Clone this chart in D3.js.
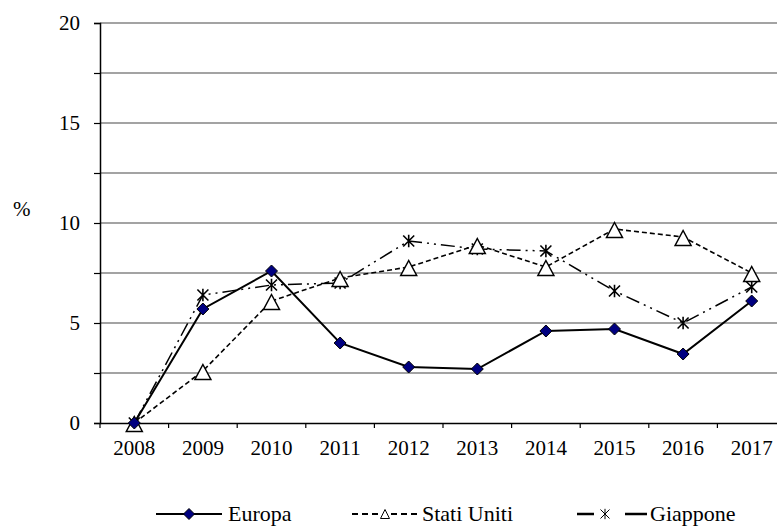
<!DOCTYPE html>
<html>
<head>
<meta charset="utf-8">
<script src="https://cdn.jsdelivr.net/npm/d3@7"></script>
<style>
  html, body { margin: 0; padding: 0; background: #fff; }
  svg { display: block; }
</style>
</head>
<body>
<svg id="chart" width="777" height="526"></svg>
<script>
const years = ["2008","2009","2010","2011","2012","2013","2014","2015","2016","2017"];
const europa = [0, 5.7, 7.6, 4.0, 2.8, 2.7, 4.6, 4.7, 3.45, 6.1];
const statiUniti = [0, 2.6, 6.1, 7.25, 7.8, 8.9, 7.8, 9.7, 9.3, 7.5];
const giappone = [0, 6.4, 6.9, 7.0, 9.1, 8.7, 8.6, 6.6, 5.0, 6.8];
const yTicks = [0, 2.5, 5, 7.5, 10, 12.5, 15, 17.5, 20];
const yLabelTicks = [0, 5, 10, 15, 20];
const seriesNames = ["Europa", "Stati Uniti", "Giappone"];

(function () {
const FONT = "'Liberation Serif', 'Times New Roman', Times, 'DejaVu Serif', serif";
const svg = d3.select("#chart");
const mLeft = 100, mRight = 786, mTop = 23, mBottom = 423;

const x = d3.scaleBand().domain(years).range([mLeft, mRight]);
const y = d3.scaleLinear().domain([0, 20]).range([mBottom, mTop]);
const cx = d => x(d) + x.bandwidth() / 2;

// gridlines
svg.append("g").selectAll("line").data(yTicks.filter(t => t > 0)).join("line")
  .attr("x1", mLeft).attr("x2", mRight)
  .attr("y1", d => y(d)).attr("y2", d => y(d))
  .attr("stroke", "#a3a3a3").attr("stroke-width", 2);

// y axis
const yAxis = d3.axisLeft(y).tickValues(yTicks).tickSize(6).tickFormat("");
const gy = svg.append("g").attr("transform", `translate(${mLeft},0)`).call(yAxis);
gy.select(".domain").attr("stroke", "#000").attr("stroke-width", 1.5);
gy.selectAll(".tick line").attr("stroke", "#000").attr("stroke-width", 1.2);
svg.append("g").selectAll("text").data(yLabelTicks).join("text")
  .attr("x", 80).attr("y", d => y(d) + 7)
  .attr("text-anchor", "end").attr("font-family", FONT).attr("font-size", 21)
  .text(d => d);

// x axis
const xAxis = d3.axisBottom(x).tickSize(0).tickFormat("");
const gx = svg.append("g").attr("transform", `translate(0,${mBottom})`).call(xAxis);
gx.select(".domain").attr("stroke", "#000").attr("stroke-width", 1.5);
svg.append("g").selectAll("line").data(years).join("line")
  .attr("x1", d => x(d)).attr("x2", d => x(d))
  .attr("y1", mBottom).attr("y2", mBottom + 5)
  .attr("stroke", "#000").attr("stroke-width", 1.2);
svg.append("g").selectAll("text").data(years).join("text")
  .attr("x", d => cx(d)).attr("y", 455)
  .attr("text-anchor", "middle").attr("font-family", FONT).attr("font-size", 21)
  .text(d => d);

// % label
svg.append("text").attr("x", 13).attr("y", 216)
  .attr("font-family", FONT).attr("font-size", 21).text("%");

const line = d3.line().x((d, i) => cx(years[i])).y(d => y(d));

const diamondPath = s => `M0,${-s}L${s},0L0,${s}L${-s},0Z`;
const trianglePath = (w, h) => `M0,${-h/2}L${w/2},${h/2}L${-w/2},${h/2}Z`;
const starPath = s => `M${-s},${-s}L${s},${s}M${-s},${s}L${s},${-s}M0,${-s*1.15}L0,${s*1.15}`;

// Giappone
svg.append("path").datum(giappone).attr("d", line)
  .attr("fill", "none").attr("stroke", "#000").attr("stroke-width", 1.5)
  .attr("stroke-dasharray", "14,5,2,5,2,5");
svg.append("g").selectAll("path").data(giappone).join("path")
  .attr("transform", (d, i) => `translate(${cx(years[i])},${y(d)})`)
  .attr("d", starPath(5.5)).attr("fill", "none").attr("stroke", "#000").attr("stroke-width", 1.6);

// Stati Uniti
svg.append("path").datum(statiUniti).attr("d", line)
  .attr("fill", "none").attr("stroke", "#000").attr("stroke-width", 1.6)
  .attr("stroke-dasharray", "5,3");
svg.append("g").selectAll("path").data(statiUniti).join("path")
  .attr("transform", (d, i) => `translate(${cx(years[i])},${y(d) + 1})`)
  .attr("d", trianglePath(16, 15)).attr("fill", "#fff").attr("stroke", "#000").attr("stroke-width", 1.5);

// Europa
svg.append("path").datum(europa).attr("d", line)
  .attr("fill", "none").attr("stroke", "#000").attr("stroke-width", 2);
svg.append("g").selectAll("path").data(europa).join("path")
  .attr("transform", (d, i) => `translate(${cx(years[i])},${y(d)})`)
  .attr("d", diamondPath(6)).attr("fill", "#000080").attr("stroke", "#000").attr("stroke-width", 1);

// Legend
const ly = 514;
const lg = svg.append("g");
lg.append("line").attr("x1", 156).attr("x2", 222).attr("y1", ly).attr("y2", ly)
  .attr("stroke", "#000").attr("stroke-width", 2.2);
lg.append("path").attr("transform", `translate(189,${ly})`).attr("d", diamondPath(5.5))
  .attr("fill", "#000080").attr("stroke", "#000").attr("stroke-width", 1);
lg.append("text").attr("x", 228).attr("y", ly + 7)
  .attr("font-family", FONT).attr("font-size", 22).text(seriesNames[0]);

lg.append("line").attr("x1", 352).attr("x2", 380).attr("y1", ly).attr("y2", ly)
  .attr("stroke", "#000").attr("stroke-width", 2.2).attr("stroke-dasharray", "6,4");
lg.append("line").attr("x1", 391).attr("x2", 418).attr("y1", ly).attr("y2", ly)
  .attr("stroke", "#000").attr("stroke-width", 2.2).attr("stroke-dasharray", "6,4");
lg.append("path").attr("transform", `translate(385,${ly})`).attr("d", trianglePath(9, 9))
  .attr("fill", "#fff").attr("stroke", "#000").attr("stroke-width", 1);
lg.append("text").attr("x", 422).attr("y", ly + 7)
  .attr("font-family", FONT).attr("font-size", 22).text(seriesNames[1]);

lg.append("line").attr("x1", 577).attr("x2", 594).attr("y1", ly).attr("y2", ly)
  .attr("stroke", "#000").attr("stroke-width", 2.5);
lg.append("line").attr("x1", 625).attr("x2", 647).attr("y1", ly).attr("y2", ly)
  .attr("stroke", "#000").attr("stroke-width", 2.5);
lg.append("path").attr("transform", `translate(605,${ly})`).attr("d", starPath(4.5))
  .attr("fill", "none").attr("stroke", "#000").attr("stroke-width", 1);
lg.append("text").attr("x", 650).attr("y", ly + 7)
  .attr("font-family", FONT).attr("font-size", 22).text(seriesNames[2]);
})();
</script>
</body>
</html>
